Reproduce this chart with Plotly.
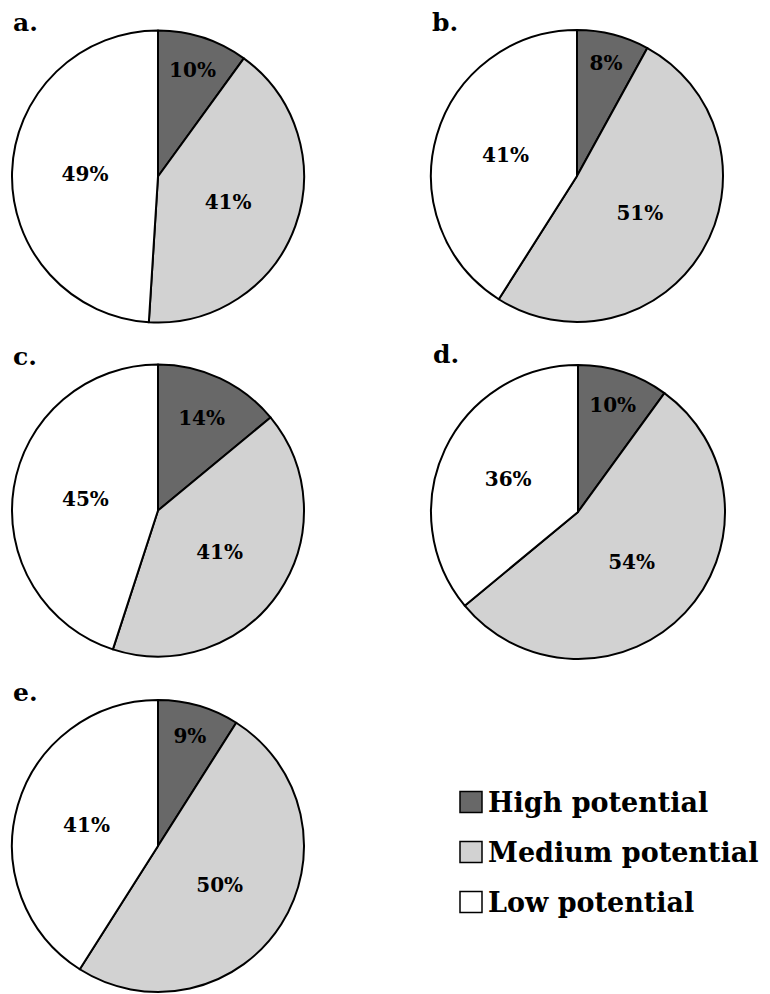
import plotly.graph_objects as go

categories = ["High potential", "Medium potential", "Low potential"]
panel_labels = ["a.", "b.", "c.", "d.", "e."]
values_a = [10, 41, 49]
values_b = [8, 51, 41]
values_c = [14, 41, 45]
values_d = [10, 54, 36]
values_e = [9, 50, 41]
all_values = [values_a, values_b, values_c, values_d, values_e]

colors = ["#686868", "#d2d2d2", "#ffffff"]
W, H = 770, 994
FONT = "DejaVu Serif"

# pixel boxes (left, right, top, bottom)
boxes = [
    (12, 304, 30, 323),
    (430, 724, 30, 322),
    (12, 304, 364, 657),
    (431, 725, 365, 659),
    (12, 304, 700, 992),
]
label_pos = [(11, 22), (430, 22), (11, 356), (431, 354), (11, 692)]

fig = go.Figure()
for i, (vals, (l, r, t, b)) in enumerate(zip(all_values, boxes)):
    fig.add_trace(go.Pie(
        labels=categories,
        values=vals,
        sort=False,
        direction="clockwise",
        rotation=0,
        marker=dict(colors=colors, line=dict(color="black", width=2)),
        texttemplate="%{value}%",
        textposition="inside",
        insidetextorientation="horizontal",
        textfont=dict(family=FONT, size=20, color="black", weight="bold"),
        domain=dict(x=[l / W, r / W], y=[1 - b / H, 1 - t / H]),
        showlegend=False,
        hoverinfo="label+percent",
    ))

for lab, (x, y) in zip(panel_labels, label_pos):
    fig.add_annotation(
        text=f"<b>{lab}</b>", x=x / W, y=1 - y / H, xref="paper", yref="paper",
        xanchor="left", yanchor="middle", showarrow=False,
        font=dict(family=FONT, size=25, color="black"),
    )

# legend: swatches + labels
leg_rows = [802, 852, 902]
for cat, col, yc in zip(categories, colors, leg_rows):
    fig.add_shape(
        type="rect", xref="paper", yref="paper",
        x0=460 / W, x1=482 / W, y0=1 - (yc + 10.5) / H, y1=1 - (yc - 10.5) / H,
        fillcolor=col, line=dict(color="black", width=1.5),
    )
    fig.add_annotation(
        text=f"<b>{cat}</b>", x=486 / W, y=1 - yc / H, xref="paper", yref="paper",
        xanchor="left", yanchor="middle", showarrow=False,
        font=dict(family=FONT, size=27, color="black"),
    )

fig.update_layout(
    width=W, height=H,
    margin=dict(l=0, r=0, t=0, b=0),
    paper_bgcolor="white",
    plot_bgcolor="white",
    showlegend=False,
)

fig.write_html("out.html", config={"displayModeBar": False},
               post_script="document.body.style.margin='0px';")
